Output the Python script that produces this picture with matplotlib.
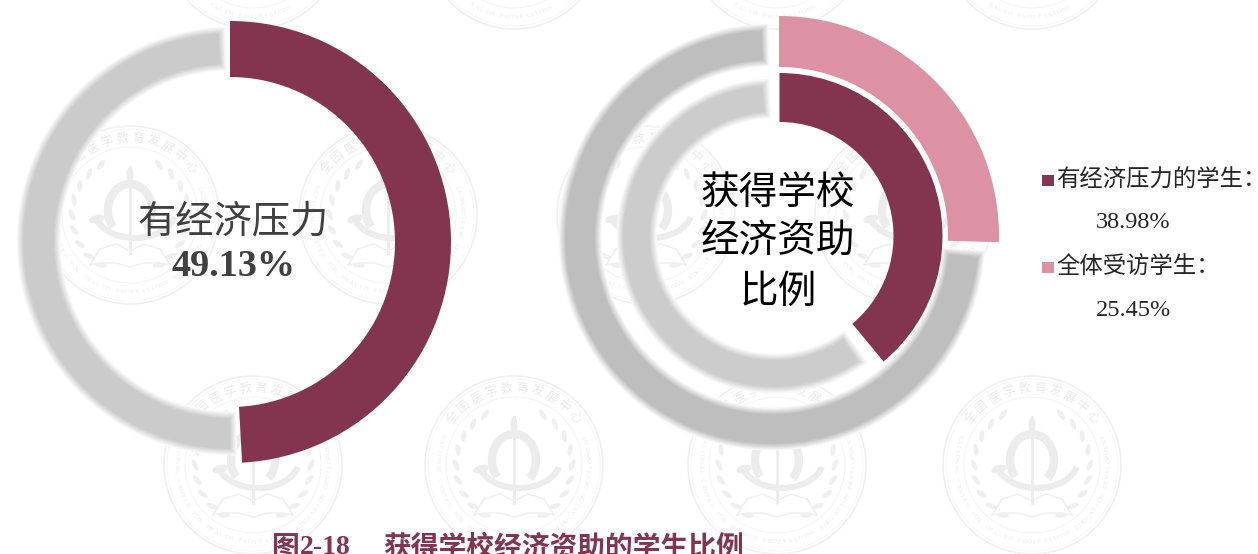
import numpy as np
import matplotlib
matplotlib.use("Agg")
import matplotlib.pyplot as plt
from matplotlib.patches import Wedge, Circle, Ellipse, Rectangle, Arc

plt.rcParams['font.family'] = ['Noto Sans CJK SC', 'DejaVu Sans']

# values
pressure_share = 49.13
aid_pressure = 38.98
aid_all = 25.45
left_label = "有经济压力"
right_label = ["获得学校", "经济资助", "比例"]
legend_names = ["有经济压力的学生：", "全体受访学生："]
legend_values = [aid_pressure, aid_all]

DARK = "#83354f"
PINK = "#dd91a4"
SEAL = "#f0f0f0"
EMBLEM = "#ececec"
SERIF = "Liberation Serif"
H = 554

fig = plt.figure(figsize=(12.58, 5.54), dpi=100)
ax = fig.add_axes([0, 0, 1, 1])


def Y(py):
    return H - py


def seal(cx, py):
    cy = Y(py)
    ax.add_patch(Circle((cx, cy), 89, fill=False, ec=SEAL, lw=1.2, zorder=1))
    ax.add_patch(Circle((cx, cy), 86, fill=False, ec="#f6f6f6", lw=0.6, zorder=1))
    ax.add_patch(Circle((cx, cy), 68, fill=False, ec="#f4f4f4", lw=0.8, zorder=1))
    # wreath
    for side in (-1, 1):
        for a in np.arange(30, 165, 15):
            t = np.radians(a)
            x = cx + side * 58 * np.sin(t)
            y = cy + 58 * np.cos(t)
            ax.add_patch(Ellipse((x, y), 5, 12, angle=side * (90 - a - 25),
                                 color="#efefef", lw=0, zorder=1))
    # staff, snake and book
    ax.plot([cx, cx], [cy + 48, cy - 38], color=EMBLEM, lw=2, zorder=1)
    ax.add_patch(Ellipse((cx, cy + 40), 7, 16, color=EMBLEM, lw=0, zorder=1))
    ax.add_patch(Arc((cx, cy + 5), 44, 52, theta1=-50, theta2=225,
                     color=EMBLEM, lw=6, zorder=1))
    ax.add_patch(Arc((cx + 5, cy + 5), 82, 56, theta1=195, theta2=350,
                     color=EMBLEM, lw=4.5, zorder=1))
    ax.add_patch(Ellipse((cx - 33, cy - 4), 16, 8, angle=15, color=EMBLEM, lw=0, zorder=1))
    for side in (-1, 1):
        xs = cx + side * np.array([0, 14, 30, 40])
        ax.plot(xs, cy - np.array([36, 29, 34, 50]), color="#efefef", lw=1, zorder=1)
        ax.plot(xs, cy - np.array([52, 48, 48, 50]), color="#efefef", lw=1, zorder=1)
        ax.plot([xs[3], xs[2]], cy - np.array([50, 34]), color="#efefef", lw=1, zorder=1)
    # lettering round the rim
    top = "全国医学教育发展中心"
    for a, ch in zip(np.linspace(-52, 52, len(top)), top):
        t = np.radians(a)
        x, y = cx + 77 * np.sin(t), cy + 77 * np.cos(t)
        if 5 < y < H - 5:
            ax.text(x, y, ch, fontsize=9, color="#ebebeb", rotation=-a,
                    ha="center", va="center", rotation_mode="anchor", zorder=1)
    low = "NATIONAL CENTER FOR HEALTH PROFESSIONS EDUCATION DEVELOPMENT"
    for a, ch in zip(np.linspace(-112, 112, len(low)), low):
        t = np.radians(a)
        x, y = cx + 77 * np.sin(t), cy - 77 * np.cos(t)
        if 5 < y < H - 5:
            ax.text(x, y, ch, fontsize=5, color="#ebebeb", rotation=a, family=SERIF,
                    ha="center", va="center", rotation_mode="anchor", zorder=1)


def shadow(cx, py, r_out, r_in, start, end, color):
    # blurred grey band: angles are clockwise from 12 o'clock
    cy = Y(py)
    rgb = np.array(matplotlib.colors.to_rgb(color))
    steps = np.linspace(3.5, -3.5, 14)
    for i, d in enumerate(steps):
        mix = (i + 1) / len(steps)
        c = 1 - (1 - rgb) * mix
        da = np.degrees(d / ((r_out + r_in) / 2))
        ax.add_patch(Wedge((cx, cy), r_out + d, 90 - (end + da), 90 - (start - da),
                           width=r_out - r_in + 2 * d, color=tuple(c), lw=0, zorder=2))


def ring(value, color, cx, py, r_out, r_in):
    ax.pie([value, 100 - value], colors=[color, "none"], startangle=90, counterclock=False,
           radius=r_out, center=(cx, Y(py)), frame=True,
           wedgeprops=dict(width=r_out - r_in, linewidth=0, zorder=3))


for x in [253, 514, 777, 1032]:
    seal(x, -60)
    seal(x, 465)
for x in [130, 388, 646, 904]:
    seal(x, 215)

shadow(231, 241, 211, 174, pressure_share * 3.6 + 2.5, 357.5, "#cbcbcb")
shadow(772, 237, 210, 174, aid_all * 3.6 + 3, 358, "#bebebe")
shadow(774, 236, 154, 121, aid_pressure * 3.6 + 4.5, 357, "#cccccc")

ring(pressure_share, DARK, 230, 242, 221, 165)
ring(aid_all, PINK, 779, 236, 220, 169)
ring(aid_pressure, DARK, 779.5, 236, 163, 114)

ax.set_xlim(0, 1258)
ax.set_ylim(0, H)
ax.axis("off")

ax.text(233.5, Y(222), left_label, fontsize=27.5, color="#404040", ha="center", va="center", zorder=5)
ax.text(233.5, Y(267), f"{pressure_share:.2f}%", fontsize=27.5, color="#404040", family=SERIF,
        fontweight="bold", ha="center", va="center", zorder=5)
for py, line in zip([194, 242, 292], right_label):
    ax.text(778, Y(py), line, fontsize=27.8, color="black", ha="center", va="center", zorder=5)

for i, (name, val, col) in enumerate(zip(legend_names, legend_values, [DARK, PINK])):
    ax.add_patch(Rectangle((1042, Y(186 + 87 * i)), 12, 11, color=col, lw=0, zorder=5))
    ax.text(1056, Y(180 + 87 * i), name, fontsize=16.8, color="#262626", ha="left", va="center", zorder=5)
    ax.text(1096, Y(223 + 87 * i), f"{val:.2f}%", fontsize=17.5, color="#262626", family=SERIF,
            ha="left", va="center", zorder=5)

ax.text(272, Y(548), "图", fontsize=20, color=DARK, fontweight="bold", ha="left", va="center", zorder=5)
ax.text(300, Y(548), "2-18", fontsize=20, color=DARK, family=SERIF, fontweight="bold",
        ha="left", va="center", zorder=5)
ax.text(383, Y(548), "获得学校经济资助的学生比例", fontsize=20, color=DARK, fontweight="bold",
        ha="left", va="center", zorder=5)

plt.savefig("out.png", dpi=100)
